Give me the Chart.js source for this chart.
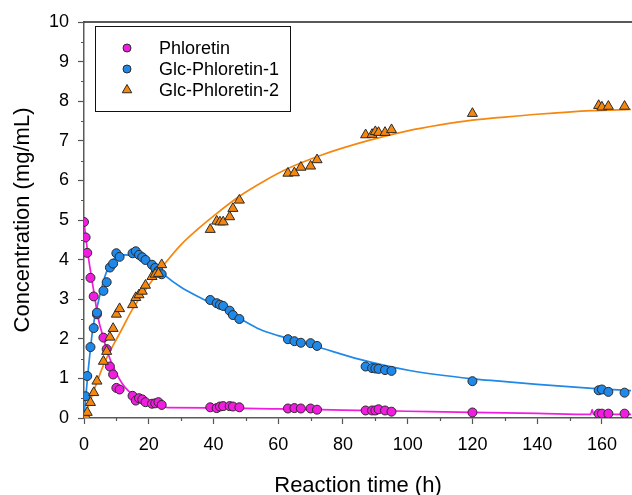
<!DOCTYPE html>
<html>
<head>
<meta charset="utf-8">
<script src="https://cdn.jsdelivr.net/npm/chart.js"></script>
<style>
  html, body { margin: 0; padding: 0; background: #fff; }
  #wrap { width: 632px; height: 495px; }
</style>
</head>
<body>
<div id="wrap"><canvas id="chart" width="632" height="495"></canvas></div>
<script>
// sampling times (h), shared by the three measured series
const sampleTimes = [0, 0.5, 1, 2, 3, 4, 6, 7, 8, 9, 10, 11, 15, 16, 17, 18, 19, 21, 22, 23, 24,
  39, 41, 42, 43, 45, 46, 48, 63, 65, 67, 70, 72, 87, 89, 90, 91, 93, 95, 120, 159, 160, 162, 167];

const phloretin = [4.95, 4.56, 4.17, 3.54, 3.07, 2.62, 2.03, 1.74, 1.30, 1.10, 0.76, 0.72, 0.56, 0.44, 0.50, 0.47, 0.40, 0.36, 0.37, 0.40, 0.33,
  0.27, 0.25, 0.29, 0.30, 0.30, 0.29, 0.27, 0.24, 0.25, 0.24, 0.24, 0.21, 0.19, 0.19, 0.19, 0.22, 0.19, 0.16, 0.14, 0.11, 0.11, 0.11, 0.11];

const glcPhloretin1 = [0.02, 0.55, 1.06, 1.79, 2.27, 2.66, 3.21, 3.43, 3.80, 3.90, 4.16, 4.07, 4.16, 4.21, 4.12, 4.06, 3.99, 3.87, 3.79, 3.72, 3.63,
  2.98, 2.90, 2.86, 2.83, 2.71, 2.60, 2.50, 1.99, 1.94, 1.90, 1.89, 1.82, 1.30, 1.26, 1.25, 1.24, 1.21, 1.19, 0.93, 0.70, 0.72, 0.66, 0.64];

const glcPhloretin2 = [0.01, 0.05, 0.14, 0.39, 0.64, 0.93, 1.43, 1.68, 2.04, 2.26, 2.62, 2.76, 2.86, 3.04, 3.11, 3.20, 3.35, 3.57, 3.63, 3.65, 3.87,
  4.76, 4.97, 4.95, 4.95, 5.08, 5.29, 5.50, 6.18, 6.19, 6.33, 6.36, 6.52, 7.15, 7.16, 7.23, 7.21, 7.21, 7.28, 7.69, 7.89, 7.85, 7.87, 7.87];

// fitted curves
const phloretinFitT = [0, 1.2, 2.3, 3.3, 4.3, 5.9, 7.4, 9.5, 12.6, 15.6, 20.8, 24, 26, 40, 60, 80, 100, 120, 140, 156.5, 157, 157.4, 169];
const phloretinFitY = [4.95, 4.15, 3.56, 3.06, 2.55, 2.05, 1.63, 1.21, 0.78, 0.57, 0.40, 0.30, 0.26, 0.255, 0.23, 0.20, 0.17, 0.14, 0.115, 0.09, 0.21, 0.09, 0.09];

const glc1FitT = [0, 1.2, 2.8, 4.3, 6.4, 8.4, 10, 12.6, 15, 17, 20.4, 23.5, 25, 30, 36.8, 40, 48, 54.3, 60, 72, 85.2, 100.6, 120, 128.5, 140, 157, 169];
const glc1FitY = [0.03, 1.12, 2.30, 2.89, 3.56, 3.94, 4.06, 4.12, 4.10, 4.05, 3.92, 3.72, 3.60, 3.30, 3.00, 2.87, 2.52, 2.24, 2.08, 1.80, 1.48, 1.20, 0.99, 0.93, 0.85, 0.75, 0.69];

const glc2FitT = [0, 3, 6.4, 11.5, 15, 20, 25, 30, 35, 40, 48, 56, 63, 73, 88, 100, 110, 120, 130, 140, 157, 169];
const glc2FitY = [0, 0.68, 1.41, 2.21, 2.75, 3.35, 3.90, 4.38, 4.76, 5.10, 5.60, 6.00, 6.30, 6.63, 7.01, 7.25, 7.40, 7.52, 7.60, 7.67, 7.76, 7.79];

const seriesNames = ["Phloretin", "Glc-Phloretin-1", "Glc-Phloretin-2"];
const seriesColors = ["#f21ce0", "#1f88e8", "#f5870f"];

const yTicks = [0, 1, 2, 3, 4, 5, 6, 7, 8, 9, 10];
const xTicks = [0, 20, 40, 60, 80, 100, 120, 140, 160];

const FONT = "'Liberation Sans', Arial, sans-serif";

function toPoints(xs, ys) {
  return xs.map((x, i) => ({ x: x, y: ys[i] }));
}

function markerSet(label, values, color, style, radius, order) {
  return {
    label: label,
    data: toPoints(sampleTimes, values),
    showLine: false,
    pointStyle: style,
    pointRadius: radius,
    pointBackgroundColor: color,
    pointBorderColor: "#2a2a2a",
    pointBorderWidth: 1,
    order: order,
  };
}

function fitSet(xs, ys, color) {
  return {
    label: "",
    data: toPoints(xs, ys),
    showLine: true,
    pointRadius: 0,
    borderColor: color,
    borderWidth: 1.7,
    fill: false,
    cubicInterpolationMode: "monotone",
    order: 5,
  };
}

// minor ticks + top frame line
const extraAxes = {
  id: "extraAxes",
  afterDraw(chart) {
    const ctx = chart.ctx;
    const area = chart.chartArea;
    const xs = chart.scales.x;
    const ys = chart.scales.y;
    ctx.save();
    ctx.strokeStyle = "#555";
    ctx.lineWidth = 1.2;
    ctx.beginPath();
    for (let v = 0.5; v < 10; v += 1) {
      const py = Math.round(ys.getPixelForValue(v)) + 0.5;
      ctx.moveTo(area.left - 3, py);
      ctx.lineTo(area.left, py);
    }
    for (let v = 10; v < xs.max; v += 20) {
      const px = Math.round(xs.getPixelForValue(v)) + 0.5;
      ctx.moveTo(px, area.bottom);
      ctx.lineTo(px, area.bottom + 3);
    }
    ctx.stroke();
    ctx.strokeStyle = "#222";
    ctx.lineWidth = 1.5;
    ctx.beginPath();
    ctx.moveTo(area.left, area.top);
    ctx.lineTo(area.right, area.top);
    ctx.stroke();
    ctx.restore();
  },
};

const legendBox = {
  id: "legendBox",
  afterDraw(chart) {
    const ctx = chart.ctx;
    const area = chart.chartArea;
    const x0 = area.left + 11;
    const y0 = area.top + 4;
    ctx.save();
    ctx.strokeStyle = "#111";
    ctx.lineWidth = 1;
    ctx.strokeRect(x0 + 0.5, y0 + 0.5, 195, 85);
    ctx.font = "18px " + FONT;
    ctx.fillStyle = "#000";
    ctx.textBaseline = "middle";
    ctx.textAlign = "left";
    chart.data.datasets.slice(0, 3).forEach((ds, i) => {
      const cy = y0 + 22 + i * 21;
      ctx.fillStyle = ds.pointBackgroundColor;
      ctx.strokeStyle = ds.pointBorderColor;
      ctx.lineWidth = 1;
      Chart.helpers.drawPoint(ctx, {
        pointStyle: ds.pointStyle,
        radius: ds.pointStyle === "triangle" ? 5.5 : 4,
        rotation: 0,
        borderWidth: 1,
      }, x0 + 32, cy);
      ctx.fillStyle = "#000";
      ctx.fillText(ds.label, x0 + 64, cy + 1);
    });
    ctx.restore();
  },
};

new Chart(document.getElementById("chart"), {
  type: "scatter",
  data: {
    datasets: [
      markerSet(seriesNames[0], phloretin, seriesColors[0], "circle", 4.5, 2),
      markerSet(seriesNames[1], glcPhloretin1, seriesColors[1], "circle", 4.5, 1),
      markerSet(seriesNames[2], glcPhloretin2, seriesColors[2], "triangle", 5.8, 0),
      fitSet(phloretinFitT, phloretinFitY, seriesColors[0]),
      fitSet(glc1FitT, glc1FitY, seriesColors[1]),
      fitSet(glc2FitT, glc2FitY, seriesColors[2]),
    ],
  },
  options: {
    responsive: false,
    animation: false,
    layout: { autoPadding: false, padding: { top: 22, right: 0, bottom: 0, left: 0 } },
    plugins: {
      legend: { display: false },
      tooltip: { enabled: false },
    },
    scales: {
      x: {
        type: "linear",
        min: 0,
        max: 169.3,
        afterBuildTicks: (scale) => {
          scale.ticks = xTicks.map((v) => ({ value: v }));
        },
        afterFit: (scale) => {
          scale.height = 77;
          scale.paddingRight = 0;
          scale.paddingLeft = 0;
        },
        border: { display: true, color: "#5a5a5a", width: 1.5 },
        grid: { drawOnChartArea: false, tickLength: 6, tickColor: "#555", tickWidth: 1.2 },
        ticks: { color: "#000", font: { family: FONT, size: 18 }, padding: 10, maxRotation: 0 },
        title: {
          display: true,
          text: "Reaction time (h)",
          color: "#000",
          font: { family: FONT, size: 22 },
          padding: { top: 0, bottom: -4 },
        },
      },
      y: {
        type: "linear",
        min: 0,
        max: 10,
        afterBuildTicks: (scale) => {
          scale.ticks = yTicks.map((v) => ({ value: v }));
        },
        afterFit: (scale) => {
          scale.width = 84;
        },
        border: { display: true, color: "#5a5a5a", width: 1.5 },
        grid: { drawOnChartArea: false, tickLength: 6, tickColor: "#555", tickWidth: 1.2 },
        ticks: { color: "#000", font: { family: FONT, size: 18 }, padding: 9 },
        title: {
          display: true,
          text: "Concentration (mg/mL)",
          color: "#000",
          font: { family: FONT, size: 22 },
          padding: { top: 10, bottom: 0 },
        },
      },
    },
  },
  plugins: [extraAxes, legendBox],
});
</script>
</body>
</html>
